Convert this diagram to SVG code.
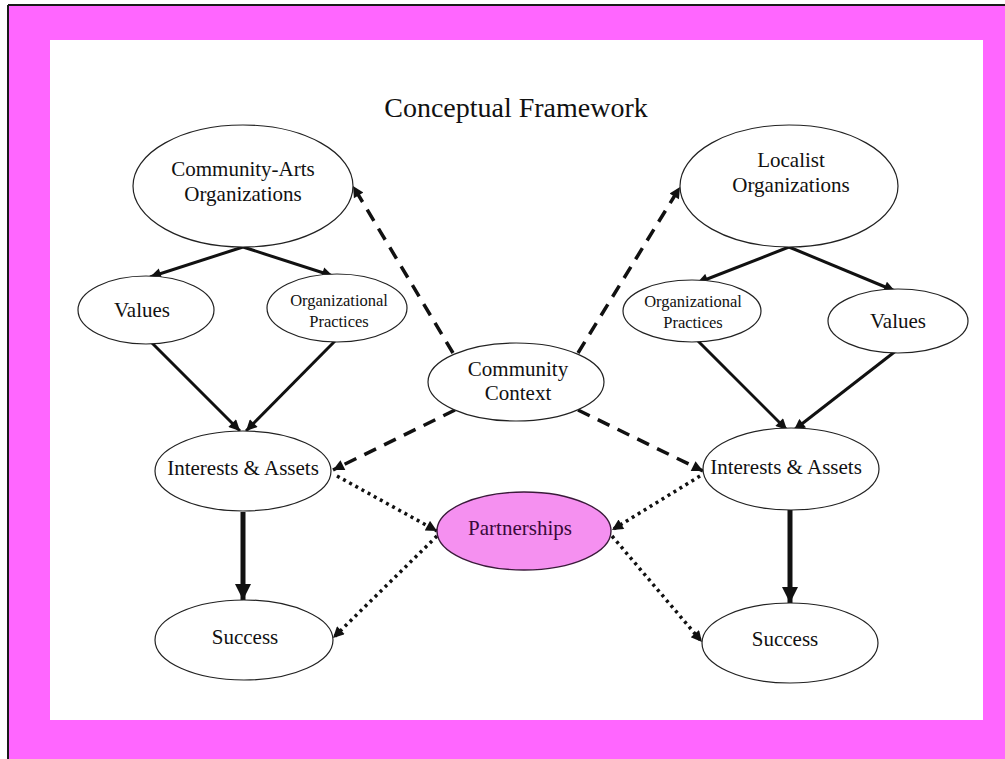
<svg xmlns="http://www.w3.org/2000/svg" width="1005" height="759" viewBox="0 0 1005 759">
  <style>
    .node { fill: #ffffff; stroke: #222222; stroke-width: 1.2; }
    .hot { fill: #f590f0; stroke: #3a1a3a; stroke-width: 1.4; }
    text { font-family: "Liberation Serif", "Times New Roman", serif; fill: #111111; text-anchor: middle; }
    .t19 { font-size: 21px; }
    .t15 { font-size: 16.5px; }
    .title { font-size: 28px; }
    .solid { stroke: #111111; stroke-width: 3; fill: none; }
    .thick { stroke: #111111; stroke-width: 5; fill: none; }
    .dash { stroke: #111111; stroke-width: 3.5; fill: none; stroke-dasharray: 13 9; }
    .dot { stroke: #111111; stroke-width: 3.5; fill: none; stroke-dasharray: 3 4; }
  </style>
  <defs>
    <marker id="head" viewBox="0 0 10 10" refX="10" refY="5" markerWidth="13" markerHeight="11" markerUnits="userSpaceOnUse" orient="auto">
      <path d="M0,0 L10,5 L0,10 z" fill="#111111"/>
    </marker>
    <marker id="headBig" viewBox="0 0 10 10" refX="10" refY="5" markerWidth="18" markerHeight="16" markerUnits="userSpaceOnUse" orient="auto">
      <path d="M0,0 L10,5 L0,10 z" fill="#111111"/>
    </marker>
  </defs>

  <!-- frame -->
  <rect x="0" y="0" width="1005" height="759" fill="#ffffff"/>
  <rect x="8" y="5" width="997" height="754" fill="#ff66ff"/>
  <line x1="8" y1="5" x2="1005" y2="5" stroke="#1a1a1a" stroke-width="2"/>
  <line x1="8" y1="5" x2="8" y2="759" stroke="#1a1a1a" stroke-width="2"/>
  <rect x="50" y="40" width="933" height="680" fill="#ffffff"/>

  <text class="title" x="516" y="117">Conceptual Framework</text>

  <!-- connectors -->
  <g id="connectors">
    <line class="solid" x1="243" y1="247" x2="150" y2="277" marker-end="url(#head)"/>
    <line class="solid" x1="243" y1="247" x2="333" y2="276" marker-end="url(#head)"/>
    <line class="solid" x1="147" y1="338" x2="240" y2="431" marker-end="url(#head)"/>
    <line class="solid" x1="335" y1="341" x2="246" y2="431" marker-end="url(#head)"/>
    <line class="solid" x1="789" y1="247" x2="697" y2="283" marker-end="url(#head)"/>
    <line class="solid" x1="789" y1="247" x2="895" y2="291" marker-end="url(#head)"/>
    <line class="solid" x1="697" y1="340" x2="787" y2="430" marker-end="url(#head)"/>
    <line class="solid" x1="897" y1="350" x2="794" y2="430" marker-end="url(#head)"/>
    <line class="thick" x1="243" y1="512" x2="243" y2="600" marker-end="url(#headBig)"/>
    <line class="thick" x1="790" y1="510" x2="790" y2="603" marker-end="url(#headBig)"/>

    <line class="dash" x1="453" y1="353" x2="353" y2="186" marker-end="url(#head)"/>
    <line class="dash" x1="578" y1="353" x2="680" y2="187" marker-end="url(#head)"/>
    <line class="dash" x1="455" y1="410" x2="333" y2="470" marker-end="url(#head)"/>
    <line class="dash" x1="578" y1="410" x2="703" y2="471" marker-end="url(#head)"/>

    <line class="dot" x1="337" y1="476" x2="437" y2="531" marker-end="url(#head)"/>
    <line class="dot" x1="700" y1="476" x2="612" y2="530" marker-end="url(#head)"/>
    <line class="dot" x1="437" y1="536" x2="333" y2="638" marker-end="url(#head)"/>
    <line class="dot" x1="612" y1="536" x2="702" y2="642" marker-end="url(#head)"/>
  </g>

  <!-- nodes -->
  <g id="community-arts">
    <ellipse class="node" cx="243" cy="186" rx="110" ry="61"/>
    <text class="t19" x="243" y="176">Community-Arts</text>
    <text class="t19" x="243" y="201">Organizations</text>
  </g>
  <g id="localist">
    <ellipse class="node" cx="789" cy="186" rx="109" ry="61"/>
    <text class="t19" x="791" y="167">Localist</text>
    <text class="t19" x="791" y="192">Organizations</text>
  </g>
  <g id="values-left">
    <ellipse class="node" cx="146" cy="310" rx="68" ry="34"/>
    <text class="t19" x="142" y="317">Values</text>
  </g>
  <g id="practices-left">
    <ellipse class="node" cx="337" cy="308" rx="70" ry="34"/>
    <text class="t15" x="339" y="306">Organizational</text>
    <text class="t15" x="339" y="327">Practices</text>
  </g>
  <g id="practices-right">
    <ellipse class="node" cx="692" cy="311" rx="69" ry="31"/>
    <text class="t15" x="693" y="307">Organizational</text>
    <text class="t15" x="693" y="328">Practices</text>
  </g>
  <g id="values-right">
    <ellipse class="node" cx="898" cy="321" rx="70" ry="32"/>
    <text class="t19" x="898" y="328">Values</text>
  </g>
  <g id="community-context">
    <ellipse class="node" cx="516" cy="382" rx="88" ry="39"/>
    <text class="t19" x="518" y="376">Community</text>
    <text class="t19" x="518" y="400">Context</text>
  </g>
  <g id="interests-left">
    <ellipse class="node" cx="243" cy="471" rx="88" ry="40"/>
    <text class="t19" x="243" y="475">Interests &amp; Assets</text>
  </g>
  <g id="interests-right">
    <ellipse class="node" cx="791" cy="469" rx="88" ry="41"/>
    <text class="t19" x="786" y="474">Interests &amp; Assets</text>
  </g>
  <g id="partnerships">
    <ellipse class="hot" cx="524" cy="531" rx="87" ry="39"/>
    <text class="t19" x="520" y="535" style="fill:#3a0a3a">Partnerships</text>
  </g>
  <g id="success-left">
    <ellipse class="node" cx="244" cy="640" rx="89" ry="40"/>
    <text class="t19" x="245" y="644">Success</text>
  </g>
  <g id="success-right">
    <ellipse class="node" cx="790" cy="643" rx="88" ry="40"/>
    <text class="t19" x="785" y="646">Success</text>
  </g>
</svg>
